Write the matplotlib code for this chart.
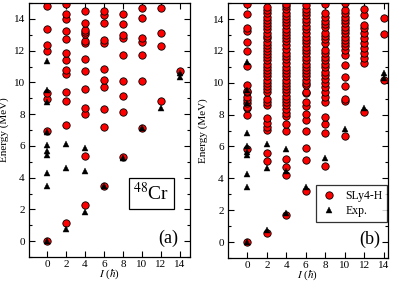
import matplotlib
matplotlib.use("Agg")
import matplotlib.pyplot as plt
from matplotlib.ticker import MultipleLocator

plt.rcParams['font.family'] = ['Liberation Serif', 'DejaVu Serif']
plt.rcParams['mathtext.fontset'] = 'stix'

# ---- data ----
# Panel (a): theory levels (red circles), keyed by spin I
theory_a = {
    0: [0, 6.95, 8.96, 9.36, 12.01, 12.37, 13.37, 14.84],
    2: [1.15, 7.33, 8.83, 9.41, 10.53, 10.81, 11.4, 11.86, 12.73, 13.22, 14.02, 14.33, 14.95],
    4: [2.27, 5.39, 8.03, 8.37, 9.61, 10.75, 11.51, 12.48, 12.61, 13.03, 13.16, 13.33, 13.77, 14.53],
    6: [3.45, 7.21, 8.31, 9.7, 10.16, 10.83, 12.48, 12.67, 13.77, 14.27, 14.53],
    8: [5.33, 8.17, 9.16, 10.11, 11.74, 12.8, 12.96, 13.66, 14.29],
    10: [7.16, 10.11, 11.74, 12.55, 12.8, 14.08, 14.67],
    12: [8.85, 12.29, 13.11, 14.67],
    14: [10.73],
}
# Panel (b): SLy4-H levels
theory_b = {
    0: [0, 5.87, 7.95, 8.40, 8.50, 8.71, 8.92, 9.09, 9.44, 9.50, 9.86, 11.05, 11.97,
        12.56, 13.24, 13.41, 14.31, 14.97],
    2: [0.60, 5.08, 5.60, 7.04, 7.25, 7.46, 7.77, 8.60, 8.80, 9.00, 9.44, 9.60, 9.80,
        10.00, 10.20, 10.40, 10.60, 10.80, 11.01, 11.20, 11.40, 11.60, 11.80, 12.00,
        12.20, 12.40, 12.58, 12.80, 12.95, 13.10, 13.35, 13.55, 13.75, 13.95, 14.15,
        14.35, 14.55, 14.73],
    4: [1.73, 4.24, 4.72, 5.19, 6.95, 7.4, 7.9, 8.1, 8.35, 8.6, 8.8, 9.0, 9.2, 9.4,
        9.6, 9.8, 10.0, 10.2, 10.4, 10.6, 10.8, 11.0, 11.25, 11.5, 11.7, 11.9, 12.1,
        12.35, 12.6, 12.8, 13.0, 13.2, 13.4, 13.6, 13.8, 14.0, 14.2, 14.4, 14.6,
        14.8, 14.97],
    6: [3.2, 5.18, 5.9, 7.0, 7.67, 8.03, 8.57, 8.82, 9.35, 9.45, 9.86, 10.0, 10.2,
        10.4, 10.6, 10.8, 11.0, 11.2, 11.4, 11.6, 11.85, 12.05, 12.25, 12.5, 12.7,
        12.9, 13.15, 13.35, 13.55, 13.8, 14.0, 14.25, 14.45, 14.65, 14.88],
    8: [4.8, 6.87, 7.4, 7.88, 8.82, 9.1, 9.4, 9.75, 10.0, 10.25, 10.5, 10.7, 11.0,
        11.2, 11.4, 11.6, 11.85, 12.05, 12.5, 12.75, 12.95, 13.15, 13.5, 13.7, 13.9,
        14.14, 14.35, 14.94],
    10: [6.66, 8.85, 9.0, 9.8, 10.38, 11.11, 11.74, 12.06, 12.3, 12.5, 12.7, 12.9,
         13.1, 13.3, 13.5, 13.73, 13.94, 14.15, 14.35, 14.57, 14.98],
    12: [8.14, 11.22, 11.53, 11.85, 12.16, 12.47, 12.79, 13.1, 13.41, 13.62, 14.25, 14.65],
    14: [10.17, 13.04, 14.04],
}
# Experimental levels (black triangles), same in both panels
exp_levels = {
    0: [0, 3.45, 4.30, 5.45, 5.68, 6.04, 6.86, 8.75, 9.55, 11.33],
    2: [0.78, 4.64, 6.15],
    4: [1.85, 4.45, 5.85],
    6: [3.45],
    8: [5.25],
    10: [7.1],
    12: [8.42],
    14: [10.32, 10.62],
}
xticks = [0, 2, 4, 6, 8, 10, 12, 14]
yticks = [0, 2, 4, 6, 8, 10, 12, 14]


def flatten(d):
    xs, ys = [], []
    for k, vals in d.items():
        xs += [k] * len(vals)
        ys += vals
    return xs, ys


fig = plt.figure(figsize=(3.95, 2.84), dpi=100)
axa = fig.add_axes([0.0734, 0.095, 0.4076, 0.894])
axb = fig.add_axes([0.577, 0.0915, 0.405, 0.8975])

for ax, th, xlim in [(axa, theory_a, (-1.9, 15.05)), (axb, theory_b, (-2.0, 14.45))]:
    tx, ty = flatten(th)
    ex, ey = flatten(exp_levels)
    ax.plot(tx, ty, 'o', ms=5.3, mfc='#ff0000', mec='black', mew=0.6,
            ls='none', label='SLy4-H', zorder=2)
    ax.plot(ex, ey, '^', ms=3.8, mfc='black', mec='black', mew=0.3,
            ls='none', label='Exp.', zorder=3)
    ax.set_xlim(*xlim)
    ax.set_ylim(-1, 15)
    ax.set_xticks(xticks)
    ax.set_yticks(yticks)
    ax.yaxis.set_minor_locator(MultipleLocator(1))
    ax.tick_params(which='both', direction='in', top=True, right=True,
                   labelsize=8)
    ax.tick_params(axis='x', pad=2)
    ax.tick_params(axis='y', pad=3)
    ax.tick_params(which='major', length=4, width=0.8)
    ax.tick_params(which='minor', length=2, width=0.8)
    for s in ax.spines.values():
        s.set_linewidth(0.9)
    ax.set_ylabel('Energy (MeV)', fontsize=8, labelpad=3)
    ax.set_xlabel(r'$I$ ($\hbar$)', fontsize=8, labelpad=-1)

axa.text(0.93, 0.04, '(a)', transform=axa.transAxes, fontsize=13,
         ha='right', va='bottom')
axb.text(0.955, 0.04, '(b)', transform=axb.transAxes, fontsize=13,
         ha='right', va='bottom')

axa.text(11.0, 3.0, r'$^{48}$Cr', fontsize=14, ha='center', va='center',
         bbox=dict(boxstyle='square,pad=0.25', fc='white', ec='black', lw=0.9))

leg = axb.legend(loc='lower right', bbox_to_anchor=(0.995, 0.141), fontsize=8.5,
                 frameon=True, fancybox=False, edgecolor='black',
                 handletextpad=0.6, borderpad=0.4, labelspacing=0.3,
                 handlelength=1.5, borderaxespad=0)
leg.get_frame().set_linewidth(0.9)

fig.savefig('out.png', dpi=100)
